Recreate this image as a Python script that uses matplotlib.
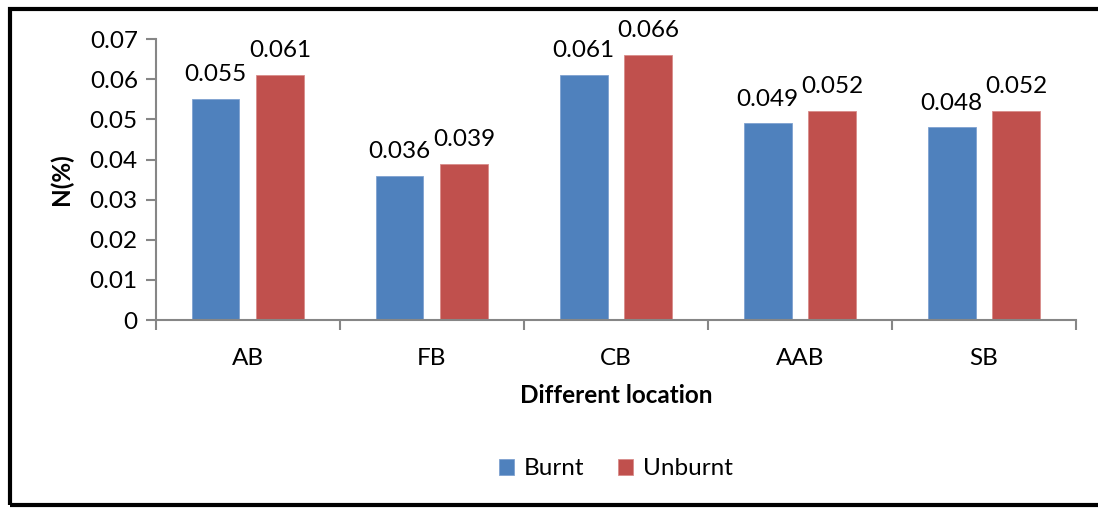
import numpy as np
import matplotlib.pyplot as plt
from matplotlib.patches import Rectangle

plt.rcParams['font.family'] = ['Lato', 'DejaVu Sans']

# Data
locations = ["AB", "FB", "CB", "AAB", "SB"]
burnt = [0.055, 0.036, 0.061, 0.049, 0.048]
unburnt = [0.061, 0.039, 0.066, 0.052, 0.052]
labels_burnt = ["0.055", "0.036", "0.061", "0.049", "0.048"]
labels_unburnt = ["0.061", "0.039", "0.066", "0.052", "0.052"]

blue = "#4F81BD"
red = "#C0504D"
grey = "#868686"
fs = 17.5

fig = plt.figure(figsize=(10.98, 5.08), dpi=100)
ax = fig.add_axes([0.142, 0.370, 0.838, 0.553])

x = np.arange(len(locations))
w = 0.26
off = 0.176
ax.bar(x - off, burnt, w, color=blue, edgecolor="#7FA2D0", linewidth=0.6, label="Burnt")
ax.bar(x + off, unburnt, w, color=red, edgecolor="#D98C8A", linewidth=0.6, label="Unburnt")

for xi, v, s in zip(x, burnt, labels_burnt):
    ax.annotate(s, (xi - off, v), xytext=(0, 10), textcoords="offset points",
                ha="center", va="bottom", fontsize=fs)
for xi, v, s in zip(x, unburnt, labels_unburnt):
    ax.annotate(s, (xi + off, v), xytext=(0, 10), textcoords="offset points",
                ha="center", va="bottom", fontsize=fs)

ax.set_xlim(-0.5, len(locations) - 0.5)
ax.set_ylim(0, 0.07)
ax.set_yticks(np.arange(0, 0.071, 0.01))
ax.set_yticklabels(["0", "0.01", "0.02", "0.03", "0.04", "0.05", "0.06", "0.07"])
ax.set_xticks(x)
ax.set_xticklabels(locations)
ax.set_xticks(np.arange(-0.5, len(locations), 1), minor=True)

for s in ["top", "right"]:
    ax.spines[s].set_visible(False)
for s in ["left", "bottom"]:
    ax.spines[s].set_color(grey)
    ax.spines[s].set_linewidth(1.5)

ax.tick_params(axis="y", length=7, width=1.5, color=grey, labelsize=fs, pad=6)
ax.tick_params(axis="x", which="major", length=0, labelsize=fs, pad=20)
ax.tick_params(axis="x", which="minor", length=7, width=1.5, color=grey)

ax.set_ylabel("N(%)", fontsize=fs, fontweight="bold", labelpad=12)
ax.set_xlabel("Different location", fontsize=fs, fontweight="bold", labelpad=11)

ax.legend(loc="center", bbox_to_anchor=(0.5, -0.53), ncol=2, frameon=False,
          fontsize=fs, handlelength=0.6, handleheight=0.6, handletextpad=0.4,
          columnspacing=1.4)

fig.patches.append(Rectangle((0.0095, 0.006), 1.2, 0.977, transform=fig.transFigure,
                             fill=False, edgecolor="black", linewidth=3))

fig.savefig("out.png", dpi=100)
